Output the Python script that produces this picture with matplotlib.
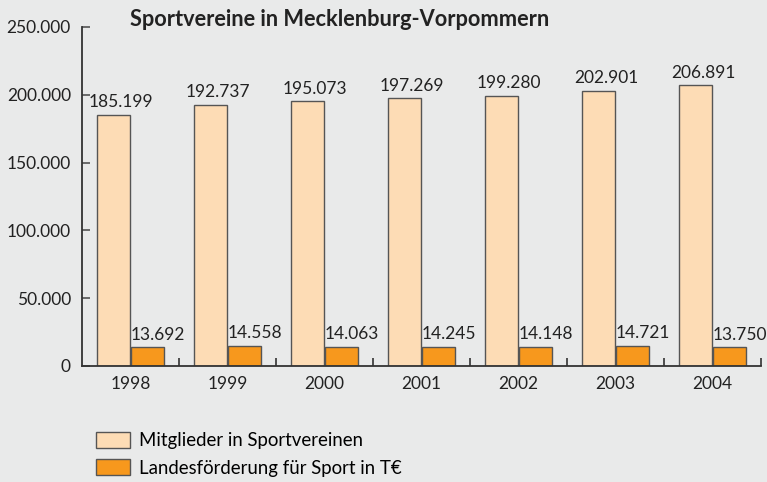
import numpy as np
import matplotlib.pyplot as plt
from matplotlib.patches import Patch

plt.rcParams['font.family'] = ['Lato', 'DejaVu Sans']

years = ['1998', '1999', '2000', '2001', '2002', '2003', '2004']
mitglieder = [185199, 192737, 195073, 197269, 199280, 202901, 206891]
foerderung = [13692, 14558, 14063, 14245, 14148, 14721, 13750]
yticks = [0, 50000, 100000, 150000, 200000, 250000]
title = 'Sportvereine in Mecklenburg-Vorpommern'
labels = ['Mitglieder in Sportvereinen', 'Landesförderung für Sport in T€']

bg = '#e9eaea'
c_peach = '#fddcb5'
c_orange = '#f7981d'
edge = '#555555'


def de(v):
    return f'{v:,}'.replace(',', '.')


fig = plt.figure(figsize=(7.67, 4.82), dpi=100, facecolor=bg)
ax = fig.add_axes([0.1069, 0.2407, 0.8853, 0.7033], facecolor=bg)

x = np.arange(len(years))
w = 0.34
ax.bar(x - 0.177, mitglieder, w, color=c_peach, edgecolor=edge, linewidth=1.0)
ax.bar(x + 0.18, foerderung, w, color=c_orange, edgecolor=edge, linewidth=1.0)

for xi, v in zip(x, mitglieder):
    ax.text(xi - 0.177 + 0.08, v + 3500, de(v), ha='center', va='bottom',
            fontsize=12.5, color='#222222')
for xi, v in zip(x, foerderung):
    ax.text(xi + 0.18 + 0.1, v + 3500, de(v), ha='center', va='bottom',
            fontsize=12.5, color='#222222')

ax.set_xlim(-0.5, len(years) - 0.5)
ax.set_ylim(0, 250000)
ax.set_yticks(yticks)
ax.set_yticklabels([de(t) for t in yticks])
ax.set_xticks(x)
ax.set_xticklabels(years)
ax.set_xticks(np.arange(len(years)) + 0.5, minor=True)
ax.tick_params(axis='x', which='major', length=0, pad=7, labelsize=12.5, colors='#222222')
ax.tick_params(axis='x', which='minor', direction='in', length=6, width=1.2, color='#333333')
ax.tick_params(axis='y', direction='in', length=6, width=1.2, pad=8, labelsize=12.5,
               color='#555555', labelcolor='#222222')

for s in ['top', 'right']:
    ax.spines[s].set_visible(False)
for s in ['left', 'bottom']:
    ax.spines[s].set_color('#333333')
    ax.spines[s].set_linewidth(1.3)

fig.text(0.443, 0.96, title, ha='center', va='center', fontsize=15.7,
         fontweight='bold', color='#222222')

handles = [Patch(facecolor=c_peach, edgecolor=edge, linewidth=1.0),
           Patch(facecolor=c_orange, edgecolor=edge, linewidth=1.0)]
fig.legend(handles, labels, loc='upper left', bbox_to_anchor=(0.115, 0.12),
           frameon=False, fontsize=13.4, handlelength=1.85, handleheight=0.95,
           labelspacing=0.55, handletextpad=0.5, borderaxespad=0,
           bbox_transform=fig.transFigure)

plt.savefig('out.png', dpi=100, facecolor=bg)
